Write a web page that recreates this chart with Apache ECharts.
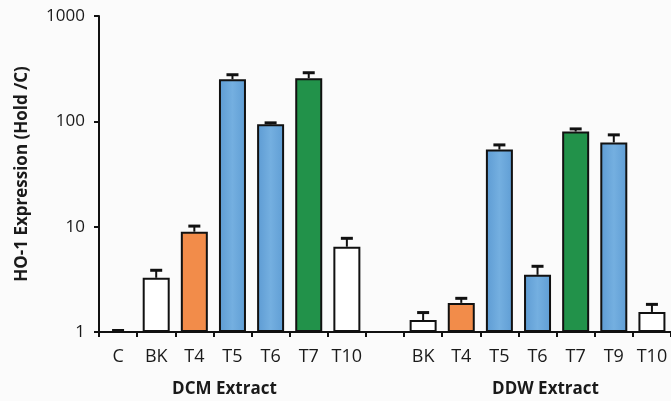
<!DOCTYPE html>
<html><head><meta charset="utf-8">
<script src="https://cdn.jsdelivr.net/npm/echarts@6/dist/echarts.min.js"></script>
<style>html,body{margin:0;padding:0;background:#fbfbfb}#c{width:671px;height:401px}</style>
</head><body><div id="c"></div>
<script>
// Data
const categories = ['C','BK','T4','T5','T6','T7','T10','','BK','T4','T5','T6','T7','T9','T10'];
const values     = [1.0, 3.27, 8.96, 251, 93.6, 257, 6.45, null, 1.30, 1.89, 54, 3.49, 80, 63, 1.55];
const errorTops  = [1.0, 3.73, 9.8, 268, 93.6, 280, 7.5, null, 1.48, 2.02, 57.8, 4.07, 82, 72, 1.77];
const groupLabels = ['DCM Extract', 'DDW Extract'];
const yTicks = [1, 10, 100, 1000];

function kindOf(name){
  if (name === 'T4') return 'orange';
  if (name === 'T5' || name === 'T6' || name === 'T9') return 'blue';
  if (name === 'T7') return 'green';
  return 'white';
}
const fills = {
  white: '#ffffff',
  orange: '#f28c4a',
  blue: new echarts.graphic.LinearGradient(0,0,1,0,[{offset:0,color:'#5d9bd3'},{offset:0.5,color:'#74afe0'},{offset:1,color:'#5f9dd4'}]),
  green: '#22924a'
};
const kinds = ['white','orange','blue','green'];
const barSeries = kinds.map(k => ({
  type: 'bar',
  name: k,
  barWidth: 27,
  barGap: '-100%',
  data: values.map((v,i) => (v != null && kindOf(categories[i]) === k) ? v : null),
  itemStyle: { color: fills[k], borderColor: '#111', borderWidth: 2 },
  z: 2
}));

const errSeries = {
  type: 'custom',
  z: 3,
  data: errorTops.map((t,i) => t == null ? null : [i, values[i], t]),
  renderItem: function(params, api){
    const i = api.value(0);
    const base = api.coord([i, api.value(1)]);
    const top = api.coord([i, api.value(2)]);
    const hw = 6;
    const ty = top[1] - 1.5;
    return {
      type: 'group',
      children: [
        {type:'line', shape:{x1:base[0],y1:base[1],x2:top[0],y2:ty}, style:{stroke:'#111',lineWidth:2}},
        {type:'line', shape:{x1:top[0]-hw,y1:ty,x2:top[0]+hw,y2:ty}, style:{stroke:'#111',lineWidth:3}}
      ]
    };
  }
};

const chart = echarts.init(document.getElementById('c'));
const font = '"Open Sans", Lato, sans-serif';
chart.setOption({
  backgroundColor: '#fbfbfb',
  animation: false,
  grid: { left: 99, top: 16, bottom: 69, width: 575, containLabel: false },
  xAxis: {
    type: 'category',
    data: categories,
    axisLine: { lineStyle: { color: '#111', width: 2 } },
    axisTick: { show: true, interval: 0, length: 5, lineStyle: { color: '#111', width: 2 } },
    axisLabel: { interval: 0, margin: 16, fontSize: 18, color: '#1a1a1a', fontFamily: font }
  },
  yAxis: {
    type: 'log',
    logBase: 10,
    min: 1,
    max: 1000,
    name: 'HO-1 Expression (Hold /C)',
    nameLocation: 'middle',
    nameGap: 68,
    nameTextStyle: { fontSize: 17, fontWeight: 'bold', color: '#1a1a1a', fontFamily: font },
    axisLine: { show: true, lineStyle: { color: '#111', width: 2 } },
    axisTick: { show: true, length: 5, lineStyle: { color: '#111', width: 2 } },
    splitLine: { show: false },
    minorTick: { show: false },
    axisLabel: { fontSize: 17, color: '#1a1a1a', margin: 14, fontFamily: font,
      formatter: v => yTicks.includes(Math.round(v)) ? String(Math.round(v)) : '' }
  },
  series: [...barSeries, errSeries]
});

// Group labels centered under their groups
const c1 = chart.convertToPixel({xAxisIndex:0}, 3);
const c2 = chart.convertToPixel({xAxisIndex:0}, 11);
chart.setOption({
  graphic: [
    { type:'text', x: c1 - 8, y: 381, style:{ text: groupLabels[0], font: 'bold 17px ' + font, fill:'#1a1a1a', textAlign:'center' } },
    { type:'text', x: c2 + 8, y: 381, style:{ text: groupLabels[1], font: 'bold 17px ' + font, fill:'#1a1a1a', textAlign:'center' } }
  ]
});
</script></body></html>
